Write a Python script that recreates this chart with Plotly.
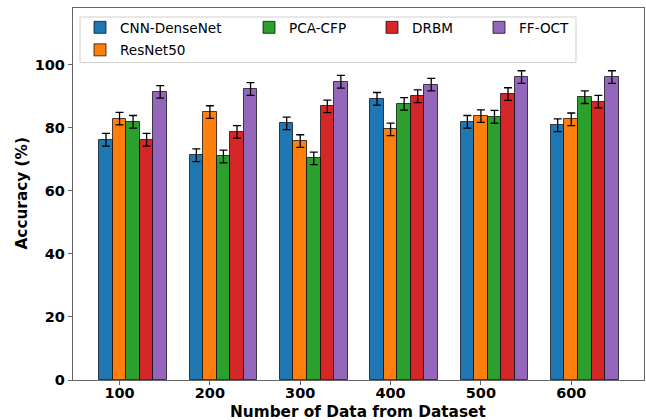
import plotly.graph_objects as go

categories = ["100", "200", "300", "400", "500", "600"]
methods = ["CNN-DenseNet", "ResNet50", "PCA-CFP", "DRBM", "FF-OCT"]
cnn_densenet = [76.2, 71.3, 81.4, 89.2, 81.9, 80.8]
resnet50 = [82.9, 85.0, 75.8, 79.5, 83.7, 82.7]
pca_cfp = [81.9, 70.9, 70.3, 87.6, 83.5, 89.7]
drbm = [76.2, 78.7, 86.8, 90.0, 90.7, 88.3]
ff_oct = [91.4, 92.3, 94.6, 93.7, 96.1, 96.1]
errors = [2.0, 2.0, 2.0, 2.0, 2.0, 2.0]

series = [cnn_densenet, resnet50, pca_cfp, drbm, ff_oct]
colors = ["#1f77b4", "#ff7f0e", "#2ca02c", "#d62728", "#9467bd"]
bar_w = 0.15

W, H = 646, 420
ML, MR, MT, MB = 73, 2, 8, 40
PW, PH = W - ML - MR, H - MT - MB


def px2x(px):
    return (px - ML) / PW


def px2y(py):
    return (H - MB - py) / PH


# legend slots (text-left pixel x, row-centre pixel y), like matplotlib ncol=4
legend_slots = [(84, 27.5), (84, 50), (253, 27.5), (376, 27.5), (483, 27.5)]
legend_ids = ["legend", "legend2", "legend3", "legend4", "legend5"]

fig = go.Figure()
for i, (name, vals) in enumerate(zip(methods, series)):
    xs = [k + (i - 1) * bar_w for k in range(len(categories))]
    fig.add_trace(go.Bar(
        x=xs, y=vals, width=bar_w, name=name,
        marker=dict(color=colors[i], line=dict(color="rgba(0,0,0,0.7)", width=1)),
        error_y=dict(type="data", array=errors, color="black", thickness=1.3, width=4),
        legend=legend_ids[i],
    ))

legend_common = dict(
    bgcolor="rgba(0,0,0,0)", borderwidth=0,
    font=dict(size=13.6, family="DejaVu Sans", color="black"),
    xanchor="left", yanchor="middle", itemwidth=30,
)
legends = {}
for lid, (lx, ly) in zip(legend_ids, legend_slots):
    legends[lid] = dict(legend_common, x=px2x(lx - 4), y=px2y(ly))

axis_line = "#666666"
tick_font = dict(size=14.5, family="DejaVu Sans", weight="bold", color="black")
fig.update_layout(
    width=W, height=H,
    margin=dict(l=ML, r=MR, t=MT, b=MB, autoexpand=False),
    plot_bgcolor="white", paper_bgcolor="white",
    font=dict(family="DejaVu Sans", color="black"),
    bargap=0,
    showlegend=True,
    shapes=[dict(
        type="rect", xref="paper", yref="paper",
        x0=px2x(80), x1=px2x(576), y0=px2y(62.5), y1=px2y(17),
        line=dict(color="#d0d0d0", width=1), fillcolor="rgba(255,255,255,0.8)",
        layer="below",
    )],
    annotations=[
        dict(text="<b>Number of Data from Dataset</b>", xref="paper", yref="paper",
             x=px2x(358), y=px2y(411.5), xanchor="center", yanchor="middle",
             showarrow=False, font=dict(size=15.3, family="DejaVu Sans", color="black")),
        dict(text="<b>Accuracy (%)</b>", xref="paper", yref="paper",
             x=px2x(21.5), y=0.5, xanchor="center", yanchor="middle", textangle=-90,
             showarrow=False, font=dict(size=15.3, family="DejaVu Sans", color="black")),
    ],
    xaxis=dict(
        range=[-0.515, 5.805], automargin=False,
        tickmode="array", tickvals=list(range(len(categories))), ticktext=categories,
        showline=True, linecolor=axis_line, linewidth=1.3, mirror=True,
        ticks="outside", ticklen=4, tickcolor=axis_line,
        showgrid=False, zeroline=False, tickfont=tick_font,
        ticklabelstandoff=-5,
    ),
    yaxis=dict(
        range=[0, 118], automargin=False,
        tickvals=[0, 20, 40, 60, 80, 100],
        showline=True, linecolor=axis_line, linewidth=1.3, mirror=True,
        ticks="outside", ticklen=4, tickcolor=axis_line,
        showgrid=False, zeroline=False, tickfont=tick_font,
    ),
    **legends,
)

fig.write_html(
    "out.html",
    config={"displayModeBar": False},
    post_script="document.body.style.margin='0';document.body.style.overflow='hidden';",
)
